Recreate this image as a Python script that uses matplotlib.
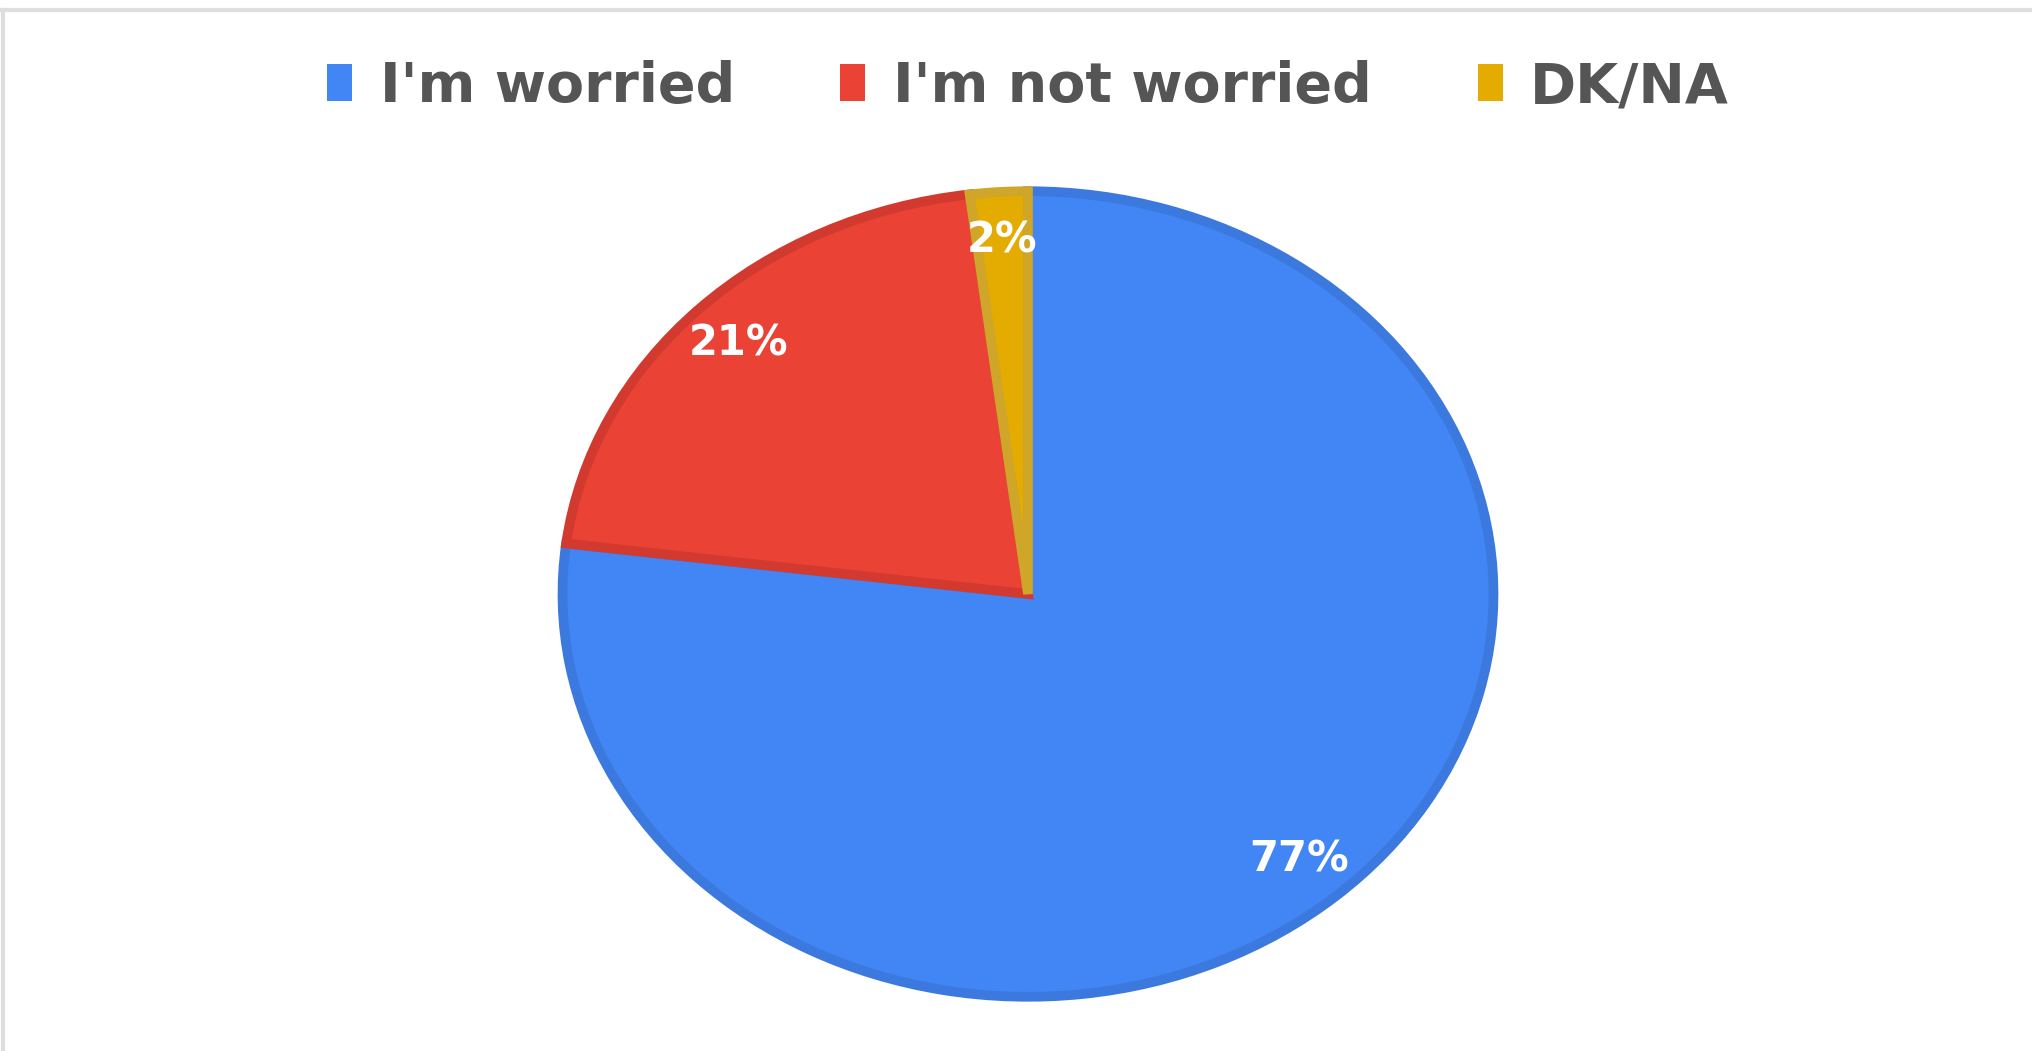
import matplotlib.pyplot as plt
from matplotlib.patches import Patch
from matplotlib.lines import Line2D

labels = ["I'm worried", "I'm not worried", "DK/NA"]
values = [77, 21, 2]
colors = ["#4285F4", "#EA4335", "#E4AB00"]
edge_colors = ["#3B79DF", "#D33A2F", "#CFA52A"]

W, H = 2033, 1051
fig = plt.figure(figsize=(W / 100, H / 100), dpi=100)

# axes box = bounding box of the (elliptical) pie, in pixels
left, right, top, bottom = 553, 1503, 183, 1005
ax = fig.add_axes([left / W, 1 - bottom / H, (right - left) / W, (bottom - top) / H])

wedges, texts, autotexts = ax.pie(values, colors=colors, startangle=90, counterclock=False,
                                  radius=0.98, autopct=lambda p: f"{p:.0f}%", pctdistance=0.88,
                                  wedgeprops=dict(linewidth=7, joinstyle="miter"),
                                  textprops=dict(color="white", fontsize=30, fontweight="bold"))
for w, ec in zip(wedges, edge_colors):
    w.set_edgecolor(ec)
ax.set_aspect("auto")
ax.set_xlim(-1, 1)
ax.set_ylim(-1, 1)

handles = [Patch(facecolor=c, edgecolor="none") for c in colors]
fig.legend(handles, labels, loc="center", bbox_to_anchor=(1028 / W, 1 - 87 / H), ncol=3,
           frameon=False, prop=dict(size=40, weight="bold"), labelcolor="#555555",
           handlelength=0.45, handleheight=0.65, handletextpad=0.5, columnspacing=1.9)

# light gray frame on top and left
fig.add_artist(Line2D([0, 1], [1 - 10 / H, 1 - 10 / H], color="#DEDEDE", linewidth=3,
                      transform=fig.transFigure))
fig.add_artist(Line2D([3 / W, 3 / W], [0, 1 - 10 / H], color="#DEDEDE", linewidth=3,
                      transform=fig.transFigure))

fig.savefig("out.png", dpi=100, facecolor="white")
